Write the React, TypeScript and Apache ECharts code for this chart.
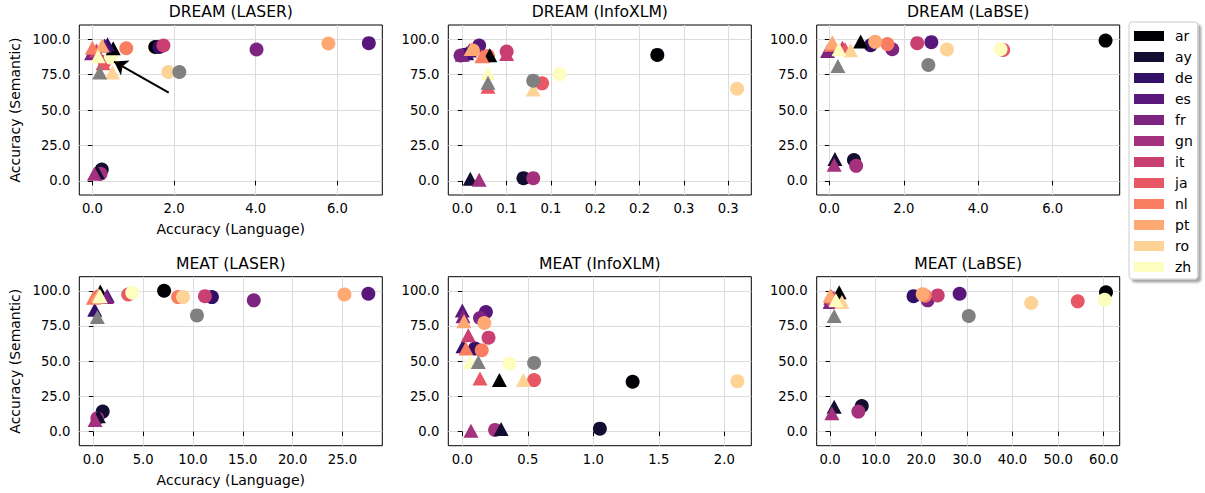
import React, { useEffect, useRef } from 'react';
import * as echarts from 'echarts';

const FONT = 'DejaVu Sans';

const languages = ['ar', 'ay', 'de', 'es', 'fr', 'gn', 'it', 'ja', 'nl', 'pt', 'ro', 'zh'];
const langColors = ['#000004', '#120d31', '#331067', '#59177c', '#7d2481', '#a3317d', '#c93f71', '#e75764', '#f97d61', '#fea874', '#fed396', '#fcfdbf'];
const avgColor = '#808080';

const yTicks = [0, 25, 50, 75, 100];
const yTickLabels = ['0.0', '25.0', '50.0', '75.0', '100.0'];

// DREAM (LASER)
const dreamLaserCircX = [1.54, 0.23, 1.64, 6.77, 4.02, 0.2, 1.74, 0.3, 0.83, 5.78, 1.86, 0.45];
const dreamLaserCircY = [94.5, 8.0, 94.5, 97.2, 92.7, 5.0, 95.5, 84.0, 93.6, 96.9, 76.8, 87.0];
const dreamLaserTriX = [0.51, 0.12, 0.37, 0.3, -0.02, 0.05, 0.1, 0.26, 0.0, 0.24, 0.49, 0.14];
const dreamLaserTriY = [93.6, 6.0, 96.5, 95.5, 90.0, 5.0, 92.0, 83.0, 94.0, 95.5, 76.4, 88.0];
const dreamLaserAvgCirc = [2.13, 76.8];
const dreamLaserAvgTri = [0.18, 76.4];
const dreamLaserXTicks = [0, 2, 4, 6];
const dreamLaserXTickLabels = ['0.0', '2.0', '4.0', '6.0'];
const dreamLaserArrowFrom = [1.87, 62.2];
const dreamLaserArrowTo = [0.53, 84.2];

// DREAM (InfoXLM)
const dreamInfoCircX = [0.22, 0.069, 0.003, 0.019, -0.002, 0.08, 0.05, 0.09, 0.029, 0.012, 0.31, 0.11];
const dreamInfoCircY = [88.9, 1.9, 89.0, 95.5, 88.5, 1.9, 91.3, 68.8, 88.2, 92.0, 65.0, 75.2];
const dreamInfoTriX = [0.031, 0.009, 0.005, 0.008, 0.0, 0.019, 0.05, 0.029, 0.022, 0.01, 0.08, 0.029];
const dreamInfoTriY = [88.7, 1.4, 90.0, 92.0, 89.0, 0.7, 89.5, 66.5, 88.0, 93.0, 64.5, 76.0];
const dreamInfoAvgCirc = [0.08, 70.7];
const dreamInfoAvgTri = [0.029, 69.3];
const dreamInfoXTicks = [0, 0.05, 0.1, 0.15, 0.2, 0.25, 0.3];
const dreamInfoXTickLabels = ['0.0', '0.1', '0.1', '0.2', '0.2', '0.3', '0.3'];

// DREAM (LaBSE)
const dreamLabseCircX = [7.42, 0.66, 1.11, 2.74, 1.69, 0.72, 2.36, 4.67, 1.56, 1.23, 3.16, 4.6];
const dreamLabseCircY = [99.0, 14.7, 95.7, 97.9, 92.9, 10.6, 97.2, 92.4, 96.5, 98.1, 92.7, 92.9];
const dreamLabseTriX = [0.84, 0.15, 0.05, 0.1, -0.05, 0.13, 0.35, 0.42, 0.05, 0.08, 0.57, 0.26];
const dreamLabseTriY = [98.3, 15.4, 95.0, 96.0, 91.7, 11.3, 94.0, 93.0, 96.0, 97.6, 92.2, 92.9];
const dreamLabseAvgCirc = [2.66, 81.8];
const dreamLabseAvgTri = [0.23, 81.0];
const dreamLabseXTicks = [0, 2, 4, 6];
const dreamLabseXTickLabels = ['0.0', '2.0', '4.0', '6.0'];

// MEAT (LASER)
const meatLaserCircX = [7.1, 0.94, 11.9, 27.6, 16.1, 0.4, 11.2, 3.5, 8.5, 25.2, 9.0, 3.9];
const meatLaserCircY = [100.0, 14.2, 95.5, 97.9, 93.2, 9.5, 96.2, 97.4, 95.5, 97.4, 95.5, 98.6];
const meatLaserTriX = [0.7, 0.5, 0.14, 1.4, 1.3, 0.17, 0.3, 0.2, 0.0, 0.5, 0.7, 0.64];
const meatLaserTriY = [99.5, 11.0, 86.5, 96.5, 95.5, 8.3, 96.0, 95.5, 95.0, 97.0, 96.0, 96.3];
const meatLaserAvgCirc = [10.4, 82.5];
const meatLaserAvgTri = [0.4, 81.4];
const meatLaserXTicks = [0, 5, 10, 15, 20, 25];
const meatLaserXTickLabels = ['0.0', '5.0', '10.0', '15.0', '20.0', '25.0'];

// MEAT (InfoXLM)
const meatInfoCircX = [1.3, 1.05, 0.097, 0.18, 0.135, 0.25, 0.2, 0.548, 0.148, 0.168, 2.1, 0.36];
const meatInfoCircY = [35.4, 2.1, 59.0, 84.9, 80.7, 1.2, 66.7, 36.6, 57.8, 77.1, 35.8, 48.3];
const meatInfoTriX = [0.283, 0.296, 0.005, 0.0, 0.005, 0.066, 0.046, 0.135, 0.028, 0.013, 0.466, 0.059];
const meatInfoTriY = [36.6, 1.9, 60.6, 86.0, 82.0, 0.7, 68.4, 37.7, 59.0, 78.3, 36.6, 49.5];
const meatInfoAvgCirc = [0.548, 48.8];
const meatInfoAvgTri = [0.122, 49.5];
const meatInfoXTicks = [0, 0.5, 1, 1.5, 2];
const meatInfoXTickLabels = ['0.0', '0.5', '1.0', '1.5', '2.0'];

// MEAT (LaBSE)
const meatLabseCircX = [60.5, 6.95, 18.3, 28.4, 21.4, 6.2, 23.6, 54.3, 20.8, 20.3, 44.1, 60.2];
const meatLabseCircY = [99.0, 18.2, 96.2, 97.9, 93.2, 14.2, 96.7, 92.5, 96.5, 97.6, 91.3, 93.6];
const meatLabseTriX = [2.0, 0.9, 0.2, 0.3, 0.0, 0.4, 0.8, 1.0, 0.3, 0.0, 2.6, 1.3];
const meatLabseTriY = [99.0, 17.7, 95.0, 96.0, 92.0, 13.0, 95.0, 94.0, 96.0, 96.7, 92.0, 93.2];
const meatLabseAvgCirc = [30.4, 82.1];
const meatLabseAvgTri = [0.9, 82.1];
const meatLabseXTicks = [0, 10, 20, 30, 40, 50, 60];
const meatLabseXTickLabels = ['0.0', '10.0', '20.0', '30.0', '40.0', '50.0', '60.0'];

const panels = [
  { title: 'DREAM (LASER)', cx: dreamLaserCircX, cy: dreamLaserCircY, tx: dreamLaserTriX, ty: dreamLaserTriY, ac: dreamLaserAvgCirc, at: dreamLaserAvgTri, xMin: -0.32, xMax: 7.1, ticks: dreamLaserXTicks, labels: dreamLaserXTickLabels },
  { title: 'DREAM (InfoXLM)', cx: dreamInfoCircX, cy: dreamInfoCircY, tx: dreamInfoTriX, ty: dreamInfoTriY, ac: dreamInfoAvgCirc, at: dreamInfoAvgTri, xMin: -0.0158, xMax: 0.326, ticks: dreamInfoXTicks, labels: dreamInfoXTickLabels },
  { title: 'DREAM (LaBSE)', cx: dreamLabseCircX, cy: dreamLabseCircY, tx: dreamLabseTriX, ty: dreamLabseTriY, ac: dreamLabseAvgCirc, at: dreamLabseAvgTri, xMin: -0.34, xMax: 7.8, ticks: dreamLabseXTicks, labels: dreamLabseXTickLabels },
  { title: 'MEAT (LASER)', cx: meatLaserCircX, cy: meatLaserCircY, tx: meatLaserTriX, ty: meatLaserTriY, ac: meatLaserAvgCirc, at: meatLaserAvgTri, xMin: -1.41, xMax: 29.0, ticks: meatLaserXTicks, labels: meatLaserXTickLabels },
  { title: 'MEAT (InfoXLM)', cx: meatInfoCircX, cy: meatInfoCircY, tx: meatInfoTriX, ty: meatInfoTriY, ac: meatInfoAvgCirc, at: meatInfoAvgTri, xMin: -0.107, xMax: 2.206, ticks: meatInfoXTicks, labels: meatInfoXTickLabels },
  { title: 'MEAT (LaBSE)', cx: meatLabseCircX, cy: meatLabseCircY, tx: meatLabseTriX, ty: meatLabseTriY, ac: meatLabseAvgCirc, at: meatLabseAvgTri, xMin: -2.93, xMax: 63.5, ticks: meatLabseXTicks, labels: meatLabseXTickLabels },
];

const gridLefts = [79.3, 448.3, 816.7];
const gridTops = [25, 276.7];
const gridWidth = 303;
const gridHeights = [170, 169];

const labelFor = (ticks: number[], labels: string[]) => (v: number) => {
  const i = ticks.findIndex((t) => Math.abs(t - v) < 1e-9);
  return i >= 0 ? labels[i] : '';
};

function buildOption() {
  const grid: any[] = [];
  const xAxis: any[] = [];
  const yAxis: any[] = [];
  const series: any[] = [];
  const title: any[] = [];

  panels.forEach((p, k) => {
    const col = k % 3;
    const row = Math.floor(k / 3);
    const left = gridLefts[col];
    const top = gridTops[row];
    const height = gridHeights[row];
    grid.push({ left, top, width: gridWidth, height, show: true, borderColor: '#000', borderWidth: 1, backgroundColor: 'transparent' });
    title.push({
      text: p.title,
      left: left + gridWidth / 2,
      top: top - 21,
      textAlign: 'center',
      padding: 0,
      textStyle: { fontFamily: FONT, fontSize: 15.6, fontWeight: 'normal', color: '#000' },
    });
    xAxis.push({
      type: 'value',
      gridIndex: k,
      min: p.xMin,
      max: p.xMax,
      axisLine: { show: false },
      axisTick: { show: true, inside: false, length: 4.5, customValues: p.ticks, lineStyle: { color: '#000', width: 1 } },
      axisLabel: { customValues: p.ticks, formatter: labelFor(p.ticks, p.labels), margin: 7, fontFamily: FONT, fontSize: 13.2, color: '#000' },
      splitLine: { show: true, lineStyle: { color: '#dcdcdc', width: 1 } },
      name: col === 0 ? 'Accuracy (Language)' : '',
      nameLocation: 'middle',
      nameGap: 27,
      nameTextStyle: { fontFamily: FONT, fontSize: 14, color: '#000' },
    });
    yAxis.push({
      type: 'value',
      gridIndex: k,
      min: -10,
      max: 110,
      axisLine: { show: false },
      axisTick: { show: true, inside: false, length: 4.5, customValues: yTicks, lineStyle: { color: '#000', width: 1 } },
      axisLabel: { customValues: yTicks, formatter: labelFor(yTicks, yTickLabels), margin: 9, fontFamily: FONT, fontSize: 13.2, color: '#000' },
      splitLine: { show: true, lineStyle: { color: '#dcdcdc', width: 1 } },
      name: col === 0 ? 'Accuracy (Semantic)' : '',
      nameLocation: 'middle',
      nameGap: 57,
      nameTextStyle: { fontFamily: FONT, fontSize: 14, color: '#000' },
    });

    languages.forEach((lang, i) => {
      series.push({
        type: 'scatter',
        name: lang,
        xAxisIndex: k,
        yAxisIndex: k,
        symbol: 'circle',
        symbolSize: 14,
        silent: true,
        itemStyle: { color: langColors[i], opacity: 1 },
        data: [[p.cx[i], p.cy[i]]],
      });
    });
    languages.forEach((lang, i) => {
      series.push({
        type: 'scatter',
        name: lang,
        xAxisIndex: k,
        yAxisIndex: k,
        symbol: 'triangle',
        symbolSize: [15, 14],
        silent: true,
        itemStyle: { color: langColors[i], opacity: 1 },
        data: [[p.tx[i], p.ty[i]]],
      });
    });
    series.push({
      type: 'scatter',
      name: 'average',
      xAxisIndex: k,
      yAxisIndex: k,
      symbol: 'circle',
      symbolSize: 14,
      silent: true,
      itemStyle: { color: avgColor, opacity: 1 },
      data: [p.ac],
    });
    series.push({
      type: 'scatter',
      name: 'average',
      xAxisIndex: k,
      yAxisIndex: k,
      symbol: 'triangle',
      symbolSize: [15, 14],
      silent: true,
      itemStyle: { color: avgColor, opacity: 1 },
      data: [p.at],
      markLine: k === 0 ? {
        silent: true,
        animation: false,
        symbol: ['none', 'arrow'],
        symbolSize: 13,
        label: { show: false },
        lineStyle: { color: '#000', width: 2, type: 'solid', opacity: 1 },
        itemStyle: { color: '#000' },
        data: [[{ coord: dreamLaserArrowFrom }, { coord: dreamLaserArrowTo }]],
      } : undefined,
    });
  });

  return {
    animation: false,
    backgroundColor: '#fff',
    textStyle: { fontFamily: FONT },
    title,
    grid,
    xAxis,
    yAxis,
    legend: {
      data: languages,
      orient: 'vertical',
      left: 1129,
      top: 22,
      icon: 'rect',
      itemWidth: 30,
      itemHeight: 10,
      itemGap: 7,
      padding: [7, 5, 5, 5],
      selectedMode: false,
      backgroundColor: '#fff',
      borderColor: '#cccccc',
      borderWidth: 1,
      borderRadius: 3,
      shadowColor: 'rgba(0,0,0,0.35)',
      shadowBlur: 2,
      shadowOffsetX: 3,
      shadowOffsetY: 3,
      textStyle: { fontFamily: FONT, fontSize: 14, color: '#000', padding: [0, 0, 0, 6] },
    },
    series,
  };
}

export default function App() {
  const ref = useRef<HTMLDivElement>(null);
  useEffect(() => {
    if (!ref.current) return;
    const chart = echarts.init(ref.current, undefined, { renderer: 'svg' });
    chart.setOption(buildOption() as any);
    return () => chart.dispose();
  }, []);
  return <div ref={ref} style={{ position: 'absolute', left: 0, top: 0, width: 1205, height: 493 }} />;
}
